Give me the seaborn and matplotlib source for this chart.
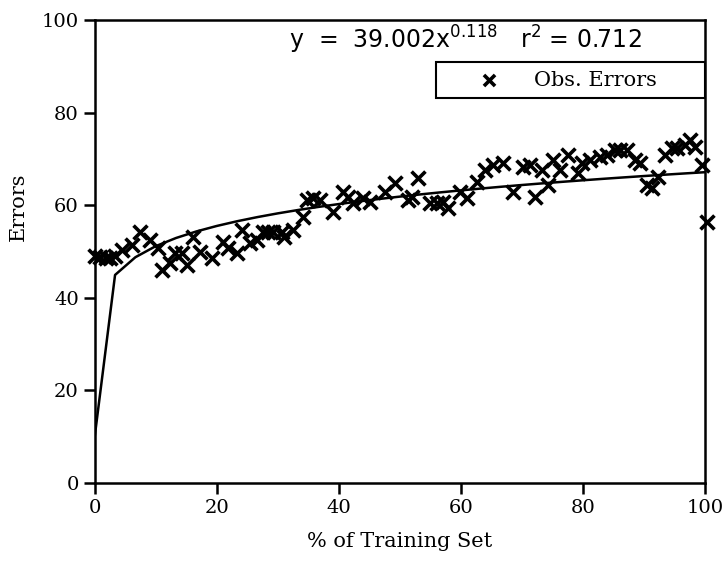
import numpy as np
import pandas as pd
import matplotlib
matplotlib.use("Agg")
import matplotlib.pyplot as plt
import seaborn as sns

pct_train = [0.0, 0.8, 1.8, 2.5, 3.4, 4.4, 6.1, 7.4, 9.0, 10.3, 11.1, 12.3, 13.1, 14.3,
             15.2, 16.1, 17.2, 19.2, 21.0, 21.8, 23.3, 24.1, 25.4, 26.6, 27.5, 28.4,
             29.2, 30.7, 31.1, 32.5, 34.1, 34.8, 35.7, 36.9, 39.0, 40.7, 41.5, 42.3,
             43.9, 45.1, 47.5, 49.2, 51.3, 52.0, 53.0, 54.9, 56.1, 57.0, 57.9, 59.8,
             61.0, 62.6, 63.9, 65.2, 66.9, 68.5, 70.2, 71.3, 72.1, 73.3, 74.3, 75.1,
             76.2, 77.5, 79.2, 79.8, 81.1, 82.8, 83.9, 85.2, 86.1, 87.2, 88.5, 89.3,
             90.5, 91.3, 92.3, 93.4, 94.6, 95.4, 96.7, 97.5, 98.4, 99.5, 100.3]
errors = [49.0, 48.8, 48.6, 48.6, 49.0, 50.3, 51.4, 54.2, 52.5, 50.8, 46.0, 47.5, 49.7,
          49.7, 47.1, 53.1, 49.9, 48.6, 52.1, 50.8, 49.7, 54.6, 51.8, 52.5, 54.2, 54.2,
          54.2, 54.2, 53.1, 54.6, 57.5, 61.1, 61.6, 61.1, 58.5, 62.9, 61.8, 60.5, 61.6,
          60.7, 62.9, 64.8, 61.1, 61.8, 65.9, 60.5, 60.5, 60.7, 59.4, 62.9, 61.6, 65.0,
          67.6, 68.7, 69.1, 62.9, 68.3, 68.7, 61.8, 67.6, 64.4, 69.8, 67.6, 70.8, 67.0,
          69.1, 69.8, 70.4, 70.8, 71.9, 71.9, 71.9, 69.8, 69.1, 64.4, 63.7, 66.1, 70.8,
          72.4, 72.4, 73.0, 74.1, 72.6, 68.7, 56.4]

# power fit y = a * x^b
fit_a = 39.002
fit_b = 0.118
fit_x = np.linspace(0, 100, 31)
fit_x[0] = 1e-5

obs = pd.DataFrame({"pct": pct_train, "err": errors})
fit = pd.DataFrame({"pct": fit_x, "err": fit_a * fit_x ** fit_b})

sns.set_style("ticks")
plt.rcParams["font.family"] = ["DejaVu Serif"]
plt.rcParams["mathtext.fontset"] = "dejavusans"
plt.rcParams["text.color"] = "black"
plt.rcParams["axes.labelcolor"] = "black"

fig = plt.figure(figsize=(7.23, 5.61), dpi=100)
ax = fig.add_axes([0.131, 0.139, 0.844, 0.825])

sns.lineplot(data=fit, x="pct", y="err", color="black", lw=1.8, sort=False, ax=ax)
sns.scatterplot(data=obs, x="pct", y="err", marker="x", s=100, color="black",
                linewidth=2.6, ax=ax, label="Obs. Errors      ", clip_on=False, zorder=3)

ax.set_xlim(0, 100)
ax.set_ylim(0, 100)
ax.set_xticks([0, 20, 40, 60, 80, 100])
ax.set_yticks([0, 20, 40, 60, 80, 100])
ax.tick_params(direction="out", length=8, width=1.8, labelsize=14, colors="black")
for sp in ax.spines.values():
    sp.set_linewidth(1.8)
    sp.set_color("black")

ax.set_xlabel("% of Training Set", fontsize=15)
ax.set_ylabel("Errors", fontsize=15)
ax.xaxis.set_label_coords(0.5, -0.105)
ax.yaxis.set_label_coords(-0.11, 0.596)

ax.text(0.608, 0.957, "y  =  39.002x$^{0.118}$   r$^{2}$ = 0.712", transform=ax.transAxes,
        ha="center", va="center", fontsize=17, family="DejaVu Sans", color="black")

leg = ax.legend(loc="upper right", bbox_to_anchor=(1.0, 0.909), borderaxespad=0,
                fontsize=15, frameon=True, fancybox=False, handletextpad=0.0,
                borderpad=0.4, handlelength=4.3, markerscale=0.8, labelcolor="black")
leg.get_frame().set_edgecolor("black")
leg.get_frame().set_linewidth(1.5)
leg.get_frame().set_alpha(1)

fig.savefig("out.png", dpi=100)
